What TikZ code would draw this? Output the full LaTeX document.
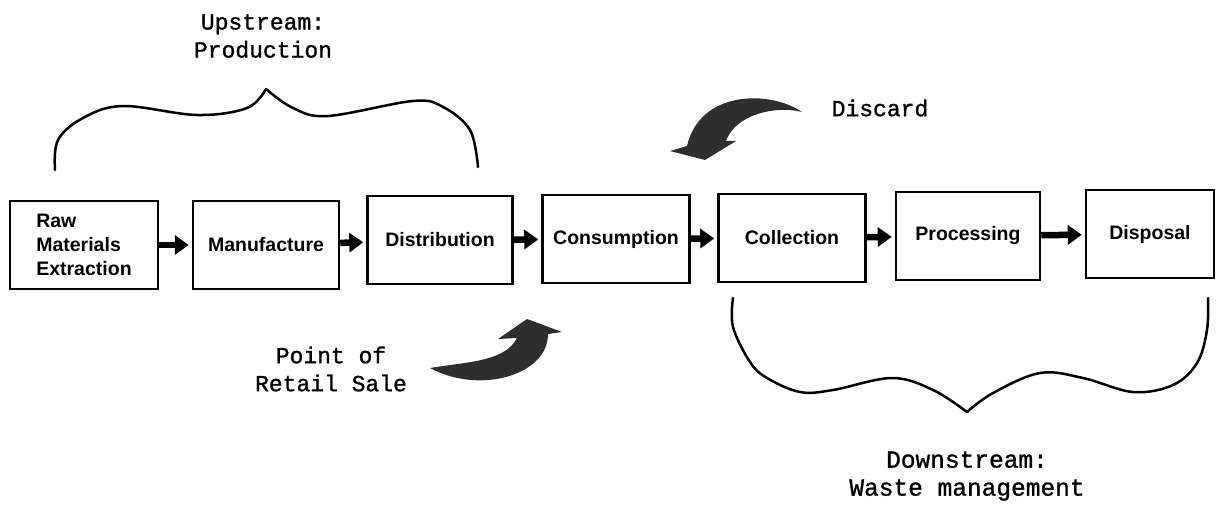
\documentclass[tikz,border=0pt]{standalone}
\usepackage{fontspec}
\setmainfont{Liberation Mono}
\newfontfamily\capfont{Liberation Mono}[FakeBold=1.2]
\newfontfamily\boxfont{Liberation Sans}
\usetikzlibrary{arrows.meta}

\tikzstyle{stage box}=[draw,line width=2.5pt,inner sep=0pt,minimum height=88pt,align=left,font=\boxfont\bfseries\fontsize{19.5}{24}\selectfont]
\tikzstyle{flow}=[draw,line width=6.5pt,shorten >=3pt,-{Triangle[length=14pt,width=19pt]}]
\tikzstyle{brace}=[draw,line width=2.5pt,line cap=round,line join=round]
\tikzstyle{turn arrow}=[fill=black!82]
\tikzstyle{caption}=[font=\capfont\fontsize{23}{28}\selectfont,align=center]

\begin{document}
\begin{tikzpicture}[x=1pt,y=-1pt]
    \useasboundingbox (0,0) rectangle (1220,505);
    % Draw the life cycle
    % First the stages
    \foreach \pos/\name/\w/\txt in {{(84,245)/raw/148/{Raw\\Materials\\Extraction}},
        {(266,245)/manu/146/{Manufacture}},{(440,240)/dist/145/{Distribution}},
        {(616,239)/cons/147/{Consumption}},{(792,238)/coll/147/{Collection}},
        {(968,236)/proc/144/{Processing}},{(1150,234)/disp/128/{Disposal}}}
    \node[stage box,minimum width=\w pt] (\name) at \pos {\txt};
    % Then the flow between them
    \foreach \source/ \dest in {raw/manu, manu/dist, dist/cons, cons/coll, coll/proc, proc/disp}
    \path[flow] (\source) -- (\dest);
    % Upstream brace
    \draw[brace] plot[smooth,tension=0.6] coordinates {(55,170) (58,140) (83,118) (123,106) (197,115) (247,108) (266,89)};
    \draw[brace] plot[smooth,tension=0.6] coordinates {(266,89) (293,108) (328,116) (413,101) (443,107) (470,130) (478,167)};
    % Downstream brace
    \draw[brace] plot[smooth,tension=0.6] coordinates {(733,298) (733,327) (750,362) (767,378) (800,392) (833,390) (892,378) (933,390) (967,412)};
    \draw[brace] plot[smooth,tension=0.6] coordinates {(967,412) (993,393) (1040,373) (1083,378) (1133,392) (1173,385) (1197,363) (1207,330) (1208,298)};
    % Labels
    \node[caption] (upstream) at (263,36) {Upstream:\\Production};
    \node[caption] (discard) at (880,108) {Discard};
    \node[caption] (retail) at (331,369) {Point of\\Retail Sale};
    \node[caption,font=\capfont\fontsize{24.5}{28}\selectfont] (downstream) at (967,476) {Downstream:\\Waste management};
    % Turning arrows
    \fill[turn arrow] (430,368) .. controls (465,362) and (505,362) .. (517,338) -- (498,339) -- (527,319) -- (562,332) -- (548,334) .. controls (548,375) and (480,395) .. (430,368) -- cycle;
    \fill[turn arrow] (802,112) .. controls (770,90) and (700,90) .. (687,146) -- (670,151) -- (705,160) -- (736,141) -- (726,141) .. controls (735,115) and (775,105) .. (802,112) -- cycle;
\end{tikzpicture}
\end{document}
